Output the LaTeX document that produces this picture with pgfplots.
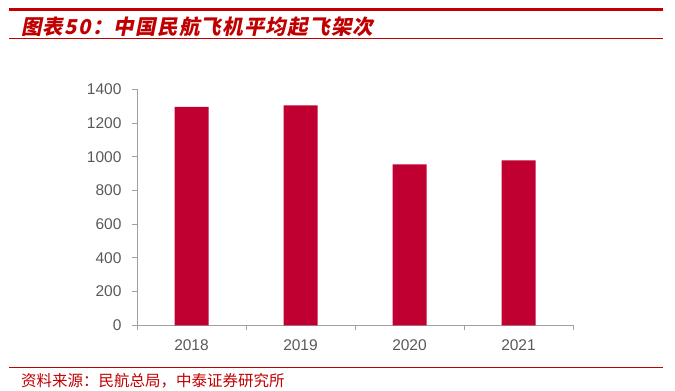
\documentclass[border=0pt]{standalone}
\usepackage{fontspec}
\usepackage{pgfplots}
\pgfplotsset{compat=1.18}
\setmainfont{Liberation Sans}
\newfontfamily\cjk{Noto Sans CJK SC}
\newfontfamily\cjkt[FakeSlant=0.2,LetterSpace=6]{Noto Sans CJK SC}
\definecolor{barred}{RGB}{192,0,48}
\definecolor{titred}{RGB}{192,0,0}
\definecolor{axgray}{RGB}{160,160,160}
\definecolor{labgray}{RGB}{89,89,89}
\begin{document}
\begin{tikzpicture}
\path[use as bounding box] (0,0) rectangle (675pt,391pt);
\draw[titred, line width=2.5pt] (9pt,381.5pt) -- (663pt,381.5pt);
\node[anchor=west, text=titred, inner sep=0pt] at (21pt,364.5pt) {\cjkt\bfseries\fontsize{20.5}{22}\selectfont 图表50：中国民航飞机平均起飞架次};
\draw[titred, line width=1pt] (9pt,352pt) -- (663pt,352pt);
\draw[titred, line width=1pt] (9pt,23pt) -- (663pt,23pt);
\node[anchor=west, text=titred, inner sep=0pt] at (21pt,10pt) {\cjk\fontsize{15.5}{17}\selectfont 资料来源：民航总局，中泰证券研究所};
\begin{axis}[
  at={(137pt,65.7pt)}, anchor=south west,
  scale only axis, width=436pt, height=236pt,
  ybar, bar width=34pt,
  xmin=-0.5, xmax=3.5, ymin=0, ymax=1400,
  xtick={0,1,2,3}, xticklabels={2018,2019,2020,2021},
  minor xtick={-0.5,0.5,1.5,2.5,3.5},
  ytick={0,200,...,1400},
  /pgf/number format/assume math mode=true,
  /pgf/number format/1000 sep={},
  axis x line*=bottom, axis y line*=left,
  axis line style={draw=axgray, line width=1pt, -},
  tick style={draw=axgray, line width=1pt},
  major x tick style={draw=none},
  tick align=outside,
  major tick length=5pt, minor tick length=5pt,
  ticklabel style={font=\fontsize{15.5}{18}\selectfont, text=labgray},
  yticklabel style={xshift=-7pt},
  xticklabel style={yshift=-6pt},
]
\addplot[fill=barred, draw=none] coordinates {(0,1295) (1,1305) (2,955) (3,978)};
\end{axis}
\end{tikzpicture}
\end{document}
